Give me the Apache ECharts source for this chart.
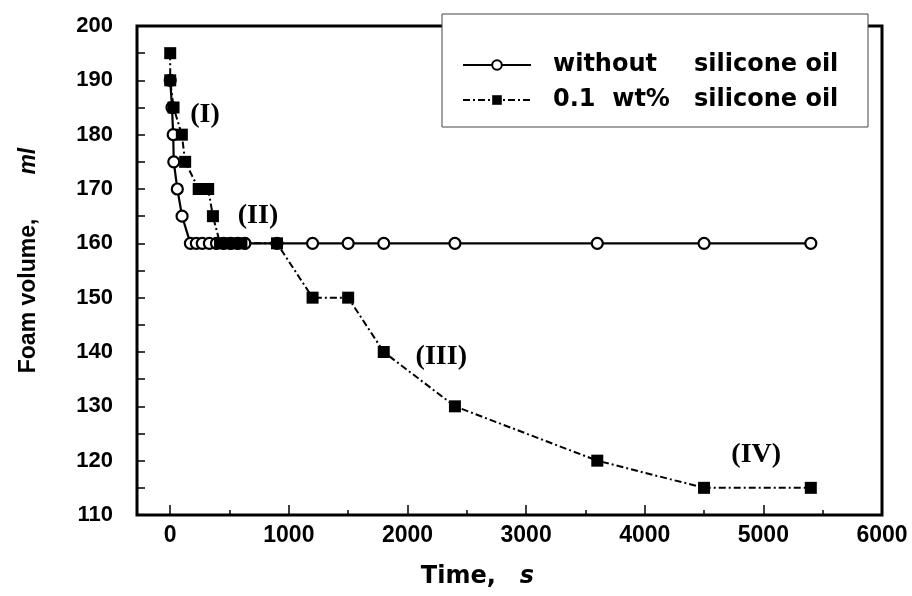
<!DOCTYPE html>
<html>
<head>
<meta charset="utf-8">
<script src="https://cdn.jsdelivr.net/npm/echarts@6/dist/echarts.min.js"></script>
<style>
html,body{margin:0;padding:0;background:#fff;}
#c{width:912px;height:596px;}
</style>
</head>
<body>
<div id="c"></div>
<script>
// Data
const timeWithout = [0, 15, 25, 30, 60, 100, 170, 220, 270, 330, 390, 450, 510, 570, 630, 900, 1200, 1500, 1800, 2400, 3600, 4500, 5400];
const volWithout  = [190, 185, 180, 175, 170, 165, 160, 160, 160, 160, 160, 160, 160, 160, 160, 160, 160, 160, 160, 160, 160, 160, 160];
const timeOil = [0, 0, 28, 98, 126, 240, 320, 360, 420, 480, 540, 600, 900, 1200, 1500, 1800, 2400, 3600, 4500, 5400];
const volOil  = [195, 190, 185, 180, 175, 170, 170, 165, 160, 160, 160, 160, 160, 150, 150, 140, 130, 120, 115, 115];
const xTickLabels = [0, 1000, 2000, 3000, 4000, 5000, 6000];
const xMinorTicks = [500, 1500, 2500, 3500, 4500, 5500];
const yTickLabels = [110, 120, 130, 140, 150, 160, 170, 180, 190, 200];
const seriesNames = ['without silicone oil', '0.1 wt% silicone oil'];
const annotations = [
  ['(I)', 293, 183.6],
  ['(II)', 740, 165.0],
  ['(III)', 2285, 139.1],
  ['(IV)', 4940, 121.0]
];

const pair = (xs, ys) => xs.map((x, i) => [x, ys[i]]);

const chart = echarts.init(document.getElementById('c'), null, {renderer: 'canvas'});
const sans = 'Liberation Sans, Arial, sans-serif';
const wide = 'DejaVu Sans, sans-serif';

chart.setOption({
  animation: false,
  backgroundColor: '#fff',
  grid: {
    left: 137, right: 30, top: 26, bottom: 81,
    show: true, borderColor: '#000', borderWidth: 3, backgroundColor: 'transparent'
  },
  legend: {
    data: seriesNames,
    orient: 'vertical',
    left: 442, top: 14,
    backgroundColor: '#fff',
    borderColor: '#444',
    borderWidth: 1,
    padding: [39, 24, 15, 20],
    itemWidth: 68,
    itemHeight: 12,
    itemGap: 11,
    z: 10,
    formatter: function (name) {
      if (name === seriesNames[0]) return '{sp| }{a|without}{b|silicone oil}';
      return '{sp| }{a|0.1  wt%}{b|silicone oil}';
    },
    textStyle: {
      color: '#000',
      rich: {
        sp: {width: 17, fontSize: 24, lineHeight: 26},
        a: {width: 141, fontFamily: wide, fontWeight: 'bold', fontSize: 24, lineHeight: 26, color: '#000'},
        b: {width: 150, fontFamily: wide, fontWeight: 'bold', fontSize: 24, lineHeight: 26, color: '#000'}
      }
    }
  },
  xAxis: [{
    type: 'value',
    min: -280, max: 6000,
    position: 'bottom',
    splitLine: {show: false},
    axisLine: {show: false, onZero: false},
    axisTick: {show: true, inside: true, length: 10, customValues: xTickLabels, lineStyle: {color: '#000', width: 1.5}},
    axisLabel: {
      customValues: xTickLabels, margin: 9,
      formatter: v => String(v),
      fontFamily: sans, fontWeight: 'bold', fontSize: 23, color: '#000'
    },
    name: '{a|Time,}{sp| }{b|s}',
    nameLocation: 'middle',
    nameGap: 50,
    nameTextStyle: {
      padding: [0, 64, 0, 0],
      rich: {
        a: {fontFamily: wide, fontWeight: 'bold', fontSize: 24, color: '#000'},
        sp: {width: 24, fontSize: 24},
        b: {fontFamily: wide, fontWeight: 'bold', fontStyle: 'italic', fontSize: 24, color: '#000'}
      }
    }
  }, {
    type: 'value',
    min: -280, max: 6000,
    position: 'bottom',
    splitLine: {show: false},
    axisLine: {show: false, onZero: false},
    axisTick: {show: true, inside: true, length: 5, customValues: xMinorTicks, lineStyle: {color: '#000', width: 1.5}},
    axisLabel: {show: false}
  }],
  yAxis: {
    type: 'value',
    min: 110, max: 200, interval: 5,
    position: 'left',
    splitLine: {show: false},
    axisLine: {show: false, onZero: false},
    axisTick: {show: true, inside: true, length: 8, lineStyle: {color: '#000', width: 1.5}},
    axisLabel: {
      customValues: yTickLabels, margin: 24,
      formatter: v => String(v),
      fontFamily: sans, fontWeight: 'bold', fontSize: 22, color: '#000'
    },
    name: '{a|Foam volume,}{sp| }{b|ml}',
    nameLocation: 'middle',
    nameGap: 97,
    nameTextStyle: {
      padding: [0, 0, 0, 20],
      rich: {
        a: {fontFamily: sans, fontWeight: 'bold', fontSize: 23, color: '#000'},
        sp: {width: 44, fontSize: 23},
        b: {fontFamily: sans, fontWeight: 'bold', fontStyle: 'italic', fontSize: 23, color: '#000'}
      }
    }
  },
  series: [{
    name: seriesNames[0],
    type: 'line',
    data: pair(timeWithout, volWithout),
    symbol: 'circle',
    symbolSize: 11,
    itemStyle: {color: '#fff', borderColor: '#000', borderWidth: 2.2},
    lineStyle: {color: '#000', width: 2.2, type: 'solid'},
    z: 3
  }, {
    name: seriesNames[1],
    type: 'line',
    data: pair(timeOil, volOil),
    symbol: 'rect',
    symbolSize: 12,
    itemStyle: {color: '#000', borderColor: '#000', borderWidth: 0},
    lineStyle: {color: '#000', width: 2, type: [7, 3, 2, 3]},
    z: 4
  }, {
    name: 'annotations',
    type: 'scatter',
    silent: true,
    data: annotations.map(a => [a[1], a[2], a[0]]),
    symbolSize: 1,
    itemStyle: {color: 'rgba(0,0,0,0)', opacity: 1},
    label: {
      show: true, position: 'inside',
      formatter: p => p.value[2],
      fontFamily: 'Liberation Serif, Times New Roman, serif',
      fontWeight: 'bold', fontSize: 28, color: '#000', opacity: 1
    },
    z: 5
  }]
});
</script>
</body>
</html>
